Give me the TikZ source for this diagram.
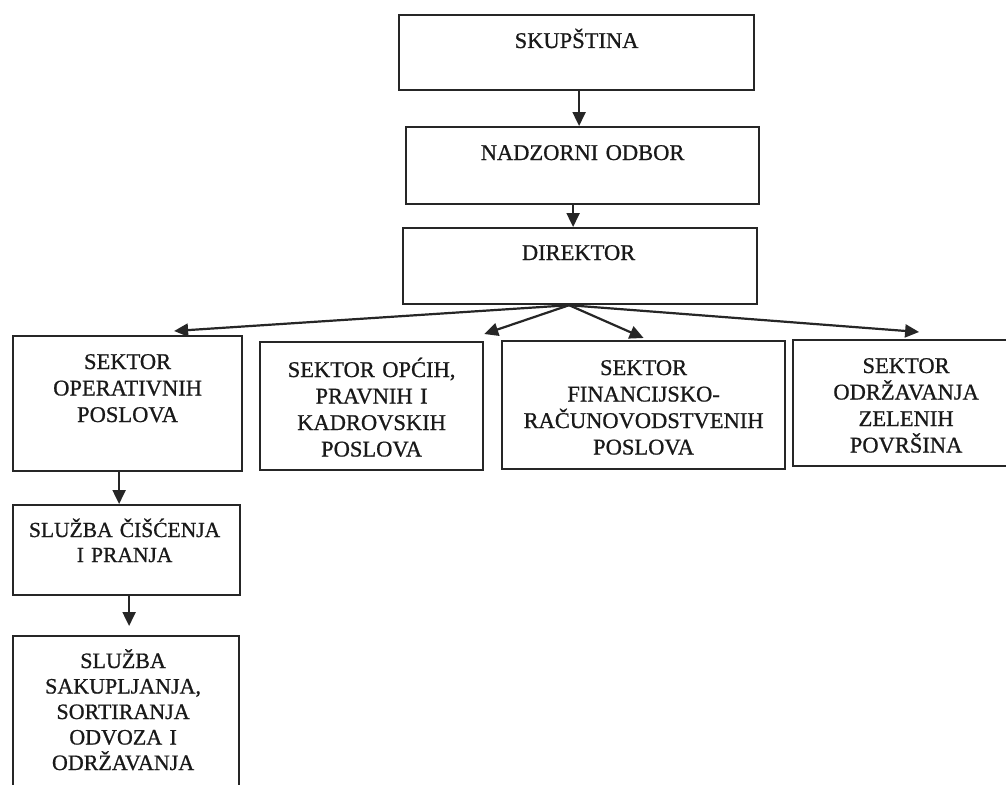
\documentclass[tikz,border=0pt]{standalone}
\usepackage{fontspec}
\setmainfont{Liberation Serif}[FakeBold=0.8]
\usetikzlibrary{arrows.meta,calc}
\begin{document}
\begin{tikzpicture}[x=1pt,y=-1pt,
  box/.style={draw=black!85, line width=2.2pt, rectangle, inner sep=0pt, anchor=north west},
  lbl/.style={font=\fontsize{22.5}{26.5}\selectfont, align=center, inner sep=0pt, anchor=base, text=black!90},
  arr/.style={draw=black!85, line width=2.2pt, -{Triangle[length=14pt,width=13pt]}}]
\useasboundingbox (0,0) rectangle (1006,784);
\fill[white] (0,0) rectangle (1006,784);
% boxes
\node[box, minimum width=355pt, minimum height=75pt] (skup) at (398,14) {};
\node[box, minimum width=353pt, minimum height=77pt] (nadz) at (405,126) {};
\node[box, minimum width=354pt, minimum height=76pt] (dir) at (402,227) {};
\node[box, minimum width=229pt, minimum height=135pt] (oper) at (12,335) {};
\node[box, minimum width=223pt, minimum height=128pt] (opc) at (259,341) {};
\node[box, minimum width=283pt, minimum height=128pt] (fin) at (501,340) {};
\node[box, minimum width=226pt, minimum height=126pt] (odr) at (792,339) {};
\node[box, minimum width=227pt, minimum height=90pt] (cis) at (12,504) {};
\node[box, minimum width=226pt, minimum height=170pt] (sak) at (12,635) {};
% texts
\node[lbl, text width=340pt] (skupT) at ($(skup.north)+(0,34)$) {SKUPŠTINA};
\node[lbl, text width=340pt] (nadzT) at ($(nadz.north)+(0,34)$) {NADZORNI ODBOR};
\node[lbl, text width=340pt] (dirT) at ($(dir.north)+(-1.5,33)$) {DIREKTOR};
\node[lbl, text width=224pt] (operT) at ($(oper.north)+(0,34)$) {SEKTOR\\OPERATIVNIH\\POSLOVA};
\node[lbl, text width=220pt] (opcT) at ($(opc.north)+(0,36)$) {SEKTOR OPĆIH,\\PRAVNIH I\\KADROVSKIH\\POSLOVA};
\node[lbl, text width=280pt] (finT) at ($(fin.north)+(0,35)$) {SEKTOR\\FINANCIJSKO-\\RAČUNOVODSTVENIH\\POSLOVA};
\node[lbl, text width=222pt] (odrT) at ($(odr.north)+(0,34)$) {SEKTOR\\ODRŽAVANJA\\ZELENIH\\POVRŠINA};
\node[lbl, text width=224pt, font=\fontsize{21.5}{25}\selectfont] (cisT) at ($(cis.north)+(-2,33)$) {SLUŽBA ČIŠĆENJA\\I PRANJA};
\node[lbl, text width=222pt, font=\fontsize{22}{25.5}\selectfont] (sakT) at ($(sak.north)+(-3,33)$) {SLUŽBA\\SAKUPLJANJA,\\SORTIRANJA\\ODVOZA I\\ODRŽAVANJA};
% connectors
\draw[arr] ([xshift=2.5pt]skup.south) -- ([xshift=2.5pt]skup.south |- nadz.north);
\draw[arr] ([xshift=-9.5pt]nadz.south) -- ([xshift=-9.5pt]nadz.south |- dir.north);
\coordinate (fan) at ([xshift=-11pt]dir.south);
\draw[arr] (fan) -- ([xshift=46.5pt,yshift=4pt]oper.north);
\draw[arr] (fan) -- ([yshift=7pt]opc.north east);
\draw[arr] (fan) -- ([yshift=2pt]fin.north);
\draw[arr] (fan) -- ([xshift=13pt,yshift=7pt]odr.north);
\draw[arr] ([xshift=-8.5pt]oper.south) -- ([xshift=-8.5pt]oper.south |- cis.north);
\draw[arr] ([xshift=2.5pt]cis.south) -- ([xshift=2.5pt,yshift=9pt]cis.south |- sak.north);
\end{tikzpicture}
\end{document}
